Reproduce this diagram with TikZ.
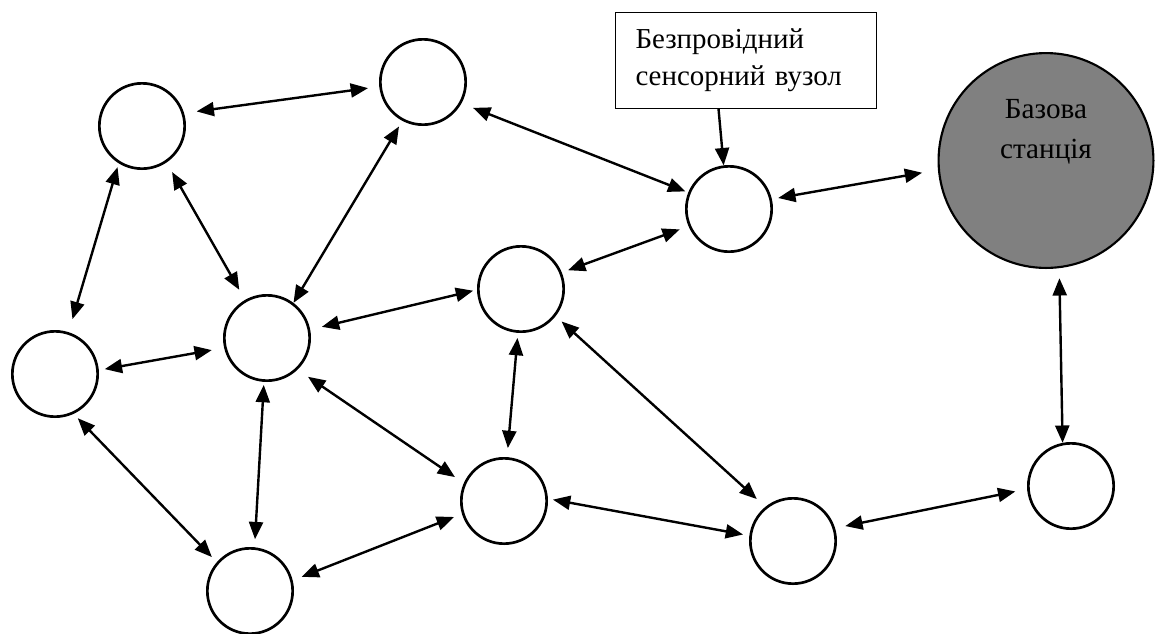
\documentclass[tikz,border=0pt]{standalone}
\usepackage{fontspec}
\setmainfont{Liberation Serif}
\usetikzlibrary{arrows.meta}

\definecolor{stationgray}{HTML}{808080}

\tikzset{
  sensor/.style={circle, draw=black, line width=2pt, fill=white,
    minimum size=64pt, inner sep=0pt},
  station/.style={circle, draw=black, line width=1.6pt, fill=stationgray,
    minimum size=161.15pt, inner sep=0pt},
  caption/.style={rectangle, draw=black, line width=0.75pt, fill=white,
    anchor=north west, inner xsep=15pt, inner ysep=0pt,
    minimum width=195.75pt, minimum height=72pt,
    text width=165.75pt, align=left,
    font=\fontsize{21.7pt}{27.8pt}\selectfont},
  stationtext/.style={anchor=base, inner sep=0pt,
    font=\fontsize{21.9pt}{27.8pt}\selectfont},
  link/.style={line width=1.8pt, {Triangle[length=13pt,width=10.5pt]}-{Triangle[length=13pt,width=10.5pt]}},
  pointer/.style={line width=1.8pt, -{Triangle[length=13pt,width=10.5pt]}},
  ends/.style 2 args={shorten <=#1, shorten >=#2}
}

\begin{document}
\begin{tikzpicture}[x=0.75pt, y=-0.75pt]
  \useasboundingbox (0,0) rectangle (1157,633);

  % sensor nodes
  \node[sensor] (A) at (142,126) {};
  \node[sensor] (B) at (423,82) {};
  \node[sensor] (C) at (729,209) {};
  \node[sensor] (E) at (521,289) {};
  \node[sensor] (F) at (267,338) {};
  \node[sensor] (G) at (55,374) {};
  \node[sensor] (H) at (504,501) {};
  \node[sensor] (I) at (793,541) {};
  \node[sensor] (J) at (1071,486) {};
  \node[sensor] (K) at (250,591) {};

  % base station
  \node[station] (D) at (1046,160.5) {};
  \node[stationtext] (Dl1) at (1046,118) {Базова};
  \node[stationtext] (Dl2) at (1046,158) {станція};

  % caption box
  \node[caption] (box) at (615,12) {Безпровідний\\сенсорний вузол};

  % links between nodes
  \draw[link, ends={9.5pt}{8.5pt}] (A.17.5) -- (B.186);
  \draw[link, ends={3pt}{10.2pt}] (A.238.6) -- (G.72.8);
  \draw[link, ends={8.3pt}{8.7pt}] (A.-56.9) -- (F.120.3);
  \draw[link, ends={4.9pt}{0pt}] (B.242.9) -- (F.53.4);
  \draw[link, ends={9pt}{3pt}] (F.11.3) -- (E.181.2);
  \draw[link, ends={4.5pt}{9.4pt}] (G.5.7) -- (F.193.3);
  \draw[link, ends={4.5pt}{5.3pt}] (G.-65) -- (K.139.8);
  \draw[link, ends={2.3pt}{6pt}] (F.266.3) -- (K.84.5);
  \draw[link, ends={9.5pt}{8pt}] (F.-46.4) -- (H.156.3);
  \draw[link, ends={7.2pt}{6.4pt}] (K.14) -- (H.197.7);
  \draw[link, ends={3.8pt}{6.8pt}] (E.266.5) -- (H.86.8);
  \draw[link, ends={5pt}{7pt}] (E.22) -- (C.203.2);
  \draw[link, ends={6pt}{8.6pt}] (E.-38) -- (I.129.1);
  \draw[link, ends={3.8pt}{4.8pt}] (H.3.5) -- (I.173.2);
  \draw[link, ends={7.8pt}{9pt}] (I.17.1) -- (J.184.1);
  \draw[link, ends={7.5pt}{0pt}] (D.277.8) -- (J.101.8);
  \draw[link, ends={9.3pt}{2.3pt}] (B.-29.7) -- (C.158.9);
  \draw[link, ends={4.8pt}{12pt}] (C.13.8) -- (D.185.3);

  % caption pointer
  \draw[pointer] ([xshift=-20.6pt]box.south) -- (C.97.8);
\end{tikzpicture}
\end{document}
